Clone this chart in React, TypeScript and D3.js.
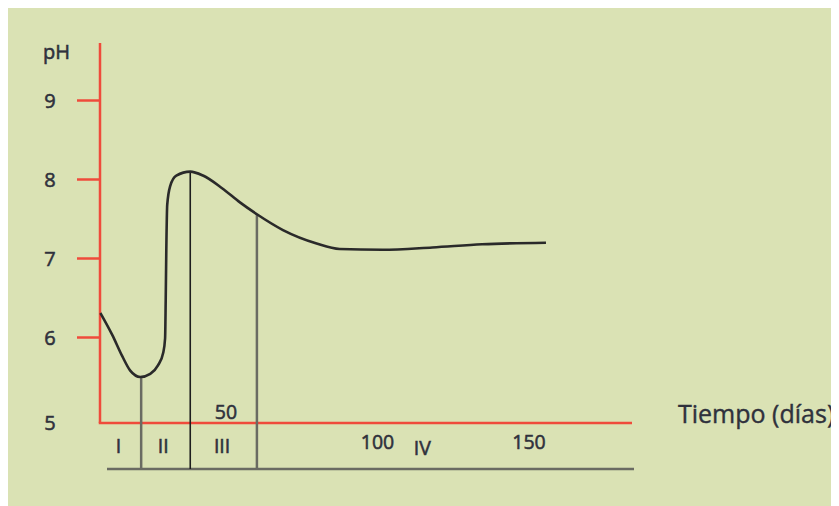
import React from "react";
import * as d3 from "d3";

// pH curve (days, pH)
const curveDays = [8.55, 12.5, 15.8, 18.4, 21.7, 25.0, 27.6, 29.3, 29.9, 30.1, 30.3, 30.6, 31.6, 33.6, 38.2, 42.4, 48.7, 54.6, 60.2, 68.8, 79.9, 87.5, 101.6, 118.1, 134.5, 155.6];
const curvePH = [6.31, 6.03, 5.76, 5.58, 5.5, 5.54, 5.65, 5.81, 5.99, 6.47, 7.11, 7.68, 7.92, 8.05, 8.1, 8.05, 7.89, 7.71, 7.56, 7.36, 7.19, 7.12, 7.11, 7.14, 7.18, 7.2];

// phase boundaries (days) and the pH where each boundary meets the curve
const boundaryDays = [22.0, 38.2, 60.2];
const boundaryPH = [5.5, 8.1, 7.56];
const boundaryStyle = ["gray", "black", "gray"];

const phaseLabels = ["I", "II", "III", "IV"];
const phaseLabelDays = [14.5, 29.3, 48.7, 114.8];

const yTicks = [9, 8, 7, 6];
const xTickLabels = [50, 100, 150];

const W = 831;
const H = 499;

export default function App() {
  const x = d3.scaleLinear().domain([0, 150]).range([74.5, 529]);
  const y = d3.scaleLinear().domain([6, 9]).range([337.5, 100.5]);

  const axisX = 100;
  const axisTop = 43;
  const baseY = 423;
  const axisRight = 632;
  const bottomY = 469;
  const red = "#ef4b3b";
  const textColor = "#2f313c";
  const font = "'Open Sans', sans-serif";
  const textStyle = {
    fill: textColor,
    stroke: textColor,
    strokeWidth: 0.55,
    fontFamily: font,
  } as const;

  const pts: [number, number][] = curveDays.map((d, i) => [x(d), y(curvePH[i])]);
  const line = d3.line().curve(d3.curveMonotoneX)(pts) || "";

  return (
    <svg width={W} height={H} style={{ display: "block", marginTop: -1 }}>
      <g transform="translate(-8,-7)">
        <rect x={8} y={7} width={W} height={H} fill="#dae2b4" />
        {/* y axis */}
        <line x1={axisX} x2={axisX} y1={axisTop} y2={baseY} stroke={red} strokeWidth={2.5} />
        <line x1={axisX - 1.25} x2={axisRight} y1={baseY} y2={baseY} stroke={red} strokeWidth={2.5} />
        {yTicks.map((t) => (
          <g key={t}>
            <line x1={77} x2={axisX} y1={y(t)} y2={y(t)} stroke={red} strokeWidth={2.5} />
            <text x={50} y={y(t)} {...textStyle} fontSize={20} textAnchor="middle" dominantBaseline="central">
              {t}
            </text>
          </g>
        ))}
        <text x={50} y={422} {...textStyle} fontSize={20} textAnchor="middle" dominantBaseline="central">
          5
        </text>
        <text x={43} y={51} {...textStyle} fontSize={20} dominantBaseline="central">
          pH
        </text>
        {/* bottom phase line */}
        <line x1={107} x2={634} y1={bottomY} y2={bottomY} stroke="#6a6b62" strokeWidth={2.5} />
        {boundaryDays.map((d, i) => (
          <line
            key={d}
            x1={x(d)}
            x2={x(d)}
            y1={y(boundaryPH[i])}
            y2={bottomY}
            stroke={boundaryStyle[i] === "black" ? "#1e1e1e" : "#6a6b62"}
            strokeWidth={boundaryStyle[i] === "black" ? 1.6 : 2.5}
          />
        ))}
        {/* curve */}
        <path d={line} fill="none" stroke="#2a2a2a" strokeWidth={2.6} />
        {/* x tick labels */}
        {xTickLabels.map((t) => (
          <text key={t} x={x(t)} y={t === 50 ? 411 : 441} {...textStyle} fontSize={19.5} textAnchor="middle" dominantBaseline="central">
            {t}
          </text>
        ))}
        {phaseLabels.map((p, i) => (
          <text key={p} x={x(phaseLabelDays[i])} y={p === "IV" ? 447 : 445} {...textStyle} fontSize={19.5} textAnchor="middle" dominantBaseline="central">
            {p}
          </text>
        ))}
        <text x={678} y={413} {...textStyle} strokeWidth={0.4} fontSize={25} dominantBaseline="central">
          Tiempo (días)
        </text>
      </g>
    </svg>
  );
}
